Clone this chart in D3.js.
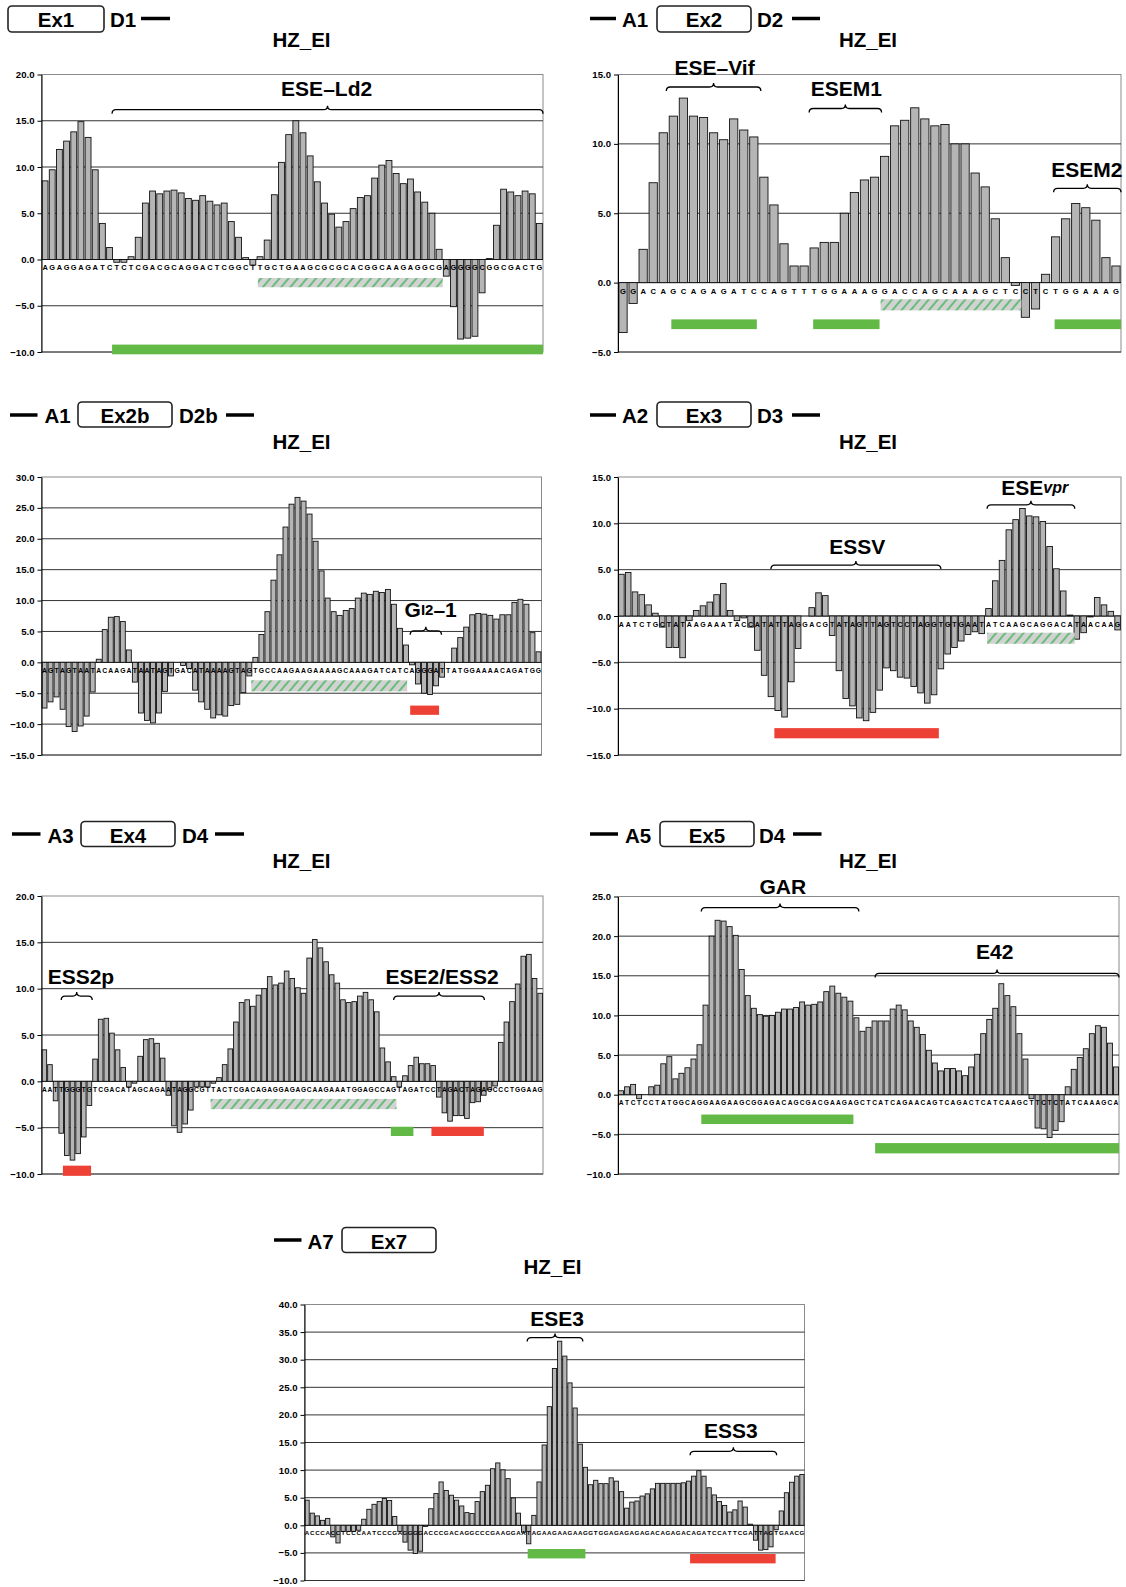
<!DOCTYPE html>
<html><head><meta charset="utf-8">
<script src="https://cdn.jsdelivr.net/npm/d3@7"></script>
<style>
html,body{margin:0;padding:0;background:#fff;}
svg{display:block;font-family:"Liberation Sans",Arial,Helvetica,sans-serif;}
</style></head><body>
<svg id="chart" width="1126" height="1587"></svg>
<script>
// ================= DATA =================
// Ex1
const ex1Seq = "AGAGGAGATCTCTCGACGCAGGACTCGGCTTGCTGAAGCGCGCACGGCAAGAGGCGAGGGGCGGCGACTG";
const ex1Values = [8.5,9.7,11.9,12.8,13.8,14.9,13.2,9.7,3.9,1.3,-0.3,-0.3,0.3,2.4,6.1,7.4,7.1,7.4,7.5,7.2,6.6,6.4,6.9,6.3,5.9,6.1,4.1,2.4,0.2,-0.6,0.3,2.1,7.0,10.5,13.5,15.0,13.7,11.2,8.4,6.1,4.9,3.5,4.1,5.5,6.7,6.9,8.8,10.2,10.7,9.3,8.2,8.7,7.3,6.2,5.0,1.1,-1.8,-5.1,-8.6,-8.5,-8.3,-3.6,0.1,3.7,7.6,7.3,6.9,7.4,7.1,3.9];
const ex1Ticks = [20,15,10,5,0,-5,-10];
const ex1Braces = [{label:[{t:"ESE–Ld2"}], from:9.85, to:70, y:16.2, labelU:39.8, labelY:18.5}];
const ex1Marks = [{kind:"hatch", from:30.2, to:56, y0:-2.0, y1:-3.0},{kind:"green", from:9.85, to:70, y0:-9.2, y1:-10.25}];

// Ex2
const ex2Seq = "GGACAGCAGAGATCCAGTTTGGAAAGGACCAGCAAAGCTCCTCTGGAAAG";
const ex2Values = [-3.6,-1.5,2.4,7.2,10.8,12.0,13.3,12.0,11.9,10.8,10.3,11.8,11.0,10.5,7.6,5.6,2.8,1.2,1.2,2.5,2.9,2.9,5.0,6.5,7.4,7.6,9.1,11.3,11.7,12.6,11.8,11.3,11.4,10.0,10.0,7.9,6.9,4.6,1.8,-0.2,-2.5,-1.9,0.6,3.3,4.6,5.7,5.4,4.5,1.8,1.2];
const ex2Ticks = [15,10,5,0,-5];
const ex2Braces = [
  {label:[{t:"ESE–Vif"}], from:4.8, to:14.2, y:14.1, labelU:9.6, labelY:15.55},
  {label:[{t:"ESEM1"}], from:19.0, to:26.2, y:12.55, labelU:22.7, labelY:14.0},
  {label:[{t:"ESEM2"}], from:43.3, to:50, y:6.8, labelU:46.6, labelY:8.2}];
const ex2Marks = [
  {kind:"green", from:5.3, to:13.8, y0:-2.65, y1:-3.35},
  {kind:"green", from:19.4, to:26.0, y0:-2.65, y1:-3.35},
  {kind:"green", from:43.4, to:50, y0:-2.65, y1:-3.35},
  {kind:"hatch", from:26.1, to:40.1, y0:-1.2, y1:-2.0}];

// Ex2b
const ex2bSeq = "AGTAGTAATACAAGATAATAGTGACATAAAAGTAGTGCCAAGAAGAAAAGCAAAGATCATCAGGGATTATGGAAAACAGATGG";
const ex2bValues = [-7.4,-6.4,-5.6,-7.6,-10.4,-11.2,-10.3,-8.7,-4.8,0.5,5.3,7.3,7.4,6.6,2.0,-3.2,-8.2,-9.4,-9.8,-8.2,-4.7,-2.2,0,-0.5,-1.0,-4.5,-6.4,-7.6,-9.0,-8.5,-8.7,-7.0,-6.8,-4.9,-2.2,0.8,4.5,8.2,13.3,17.4,21.9,25.6,26.7,26.1,24.0,19.6,14.8,10.4,8.2,7.6,8.4,8.7,10.4,11.2,11.0,11.5,11.3,11.8,9.4,5.5,2.8,-0.4,-3.5,-5.0,-5.2,-3.8,-2.4,0,2.3,4.0,5.7,7.7,7.9,7.8,7.6,7.0,7.7,7.7,9.7,10.2,9.4,4.8,1.7];
const ex2bTicks = [30,25,20,15,10,5,0,-5,-10,-15];
const ex2bBraces = [{label:[{t:"G"},{t:"I2",size:15},{t:"–1"}], from:61.2, to:66.4, y:5.1, labelU:64.6, labelY:8.6}];
const ex2bMarks = [
  {kind:"hatch", from:34.8, to:60.7, y0:-2.9, y1:-4.7},
  {kind:"red", from:61.2, to:66.0, y0:-7.0, y1:-8.5}];

// Ex3
const ex3Seq = "AATCTGCTATAAGAAATACCATATTAGGACGTATAGTTAGTCCTAGGTGTGAATATCAAGCAGGACATAACAAG";
const ex3Values = [4.5,4.7,2.6,2.3,1.2,0.3,-1.2,-3.4,-3.4,-4.5,-0.5,0.6,1.1,1.5,2.3,3.5,0.6,-0.5,-0.2,-1.2,-3.7,-6.4,-8.7,-10.2,-10.9,-7.1,-3.5,0,0.9,2.5,2.2,-2.1,-5.9,-8.9,-9.7,-11.0,-11.3,-10.4,-8.0,-5.6,-5.9,-6.6,-6.7,-7.6,-8.3,-9.4,-8.5,-5.7,-4.1,-3.4,-2.7,-2.0,-1.7,-1.9,0.8,3.8,6.0,9.3,10.4,11.6,10.8,10.7,10.2,7.5,5.1,2.7,0.1,-2.5,-1.8,-0.1,2.0,1.2,0.5,-1.5];
const ex3Ticks = [15,10,5,0,-5,-10,-15];
const ex3Braces = [
  {label:[{t:"ESSV"}], from:22.5, to:47.5, y:5.5, labelU:35.2, labelY:7.6},
  {label:[{t:"ESE"},{t:"vpr",size:16,italic:true}], from:54.3, to:67.2, y:12.0, labelU:61.3, labelY:13.9}];
const ex3Marks = [
  {kind:"red", from:23.0, to:47.2, y0:-12.1, y1:-13.2},
  {kind:"hatch", from:54.3, to:67.2, y0:-1.8, y1:-3.0}];

// Ex4
const ex4Seq = "AATTGGGTGTCGACATAGCAGAATAGGCGTTACTCGACAGAGGAGAGCAAGAAATGGAGCCAGTAGATCCTAGACTAGAGCCCTGGAAG";
const ex4Values = [3.4,1.8,-2.1,-5.6,-8.0,-8.5,-7.8,-6.0,-2.6,2.4,6.7,6.8,5.2,3.4,1.5,-0.6,-0.2,2.7,4.5,4.6,4.1,2.5,-1.5,-4.8,-5.5,-4.6,-3.1,-0.6,-0.6,-0.6,-0.2,0.4,1.8,3.5,6.4,8.5,8.8,8.1,9.3,10.0,11.3,10.4,10.6,11.9,11.1,10.1,9.5,13.3,15.3,14.4,12.9,11.5,10.6,8.8,8.5,8.6,9.2,9.6,8.8,7.5,3.6,2.1,0.5,-0.6,0.6,1.7,2.6,1.9,1.9,1.7,-1.7,-3.4,-4.3,-3.7,-3.7,-4.0,-2.3,-2.2,-1.5,-0.9,-0.5,4.2,6.4,8.6,10.5,13.5,13.7,11.1,9.5];
const ex4Ticks = [20,15,10,5,0,-5,-10];
const ex4Braces = [
  {label:[{t:"ESS2p"}], from:3.5, to:9.0, y:9.2, labelU:7.0, labelY:11.4},
  {label:[{t:"ESE2/ESS2"}], from:62.5, to:78.6, y:9.2, labelU:71.1, labelY:11.4}];
const ex4Marks = [
  {kind:"red", from:3.8, to:8.8, y0:-9.1, y1:-10.2},
  {kind:"hatch", from:30.0, to:63.0, y0:-1.9, y1:-3.0},
  {kind:"green", from:62.0, to:66.0, y0:-4.9, y1:-5.9},
  {kind:"red", from:69.2, to:78.5, y0:-4.9, y1:-5.9}];

// Ex5
const ex5Seq = "ATCTCCTATGGCAGGAAGAAGCGGAGACAGCGACGAAGAGCTCATCAGAACAGTCAGACTCATCAAGCTTCTCTATCAAAGCA";
const ex5Values = [0.5,1.0,1.3,-0.5,0,1.0,1.2,3.9,4.8,2.0,2.7,3.4,4.5,6.3,11.3,20.0,22.0,21.9,21.2,20.1,15.8,12.5,10.9,10.1,9.9,10.0,10.4,10.8,10.8,11.0,11.7,11.3,11.4,11.7,13.0,13.7,12.8,12.3,11.8,9.7,8.0,8.5,9.3,9.3,9.3,10.8,11.3,10.7,9.3,8.5,7.6,5.6,4.0,3.0,3.3,3.3,3.0,2.4,3.5,5.1,7.7,9.5,10.9,14.0,12.5,11.1,7.7,4.5,-0.5,-4.2,-4.3,-5.4,-4.5,-3.4,1.0,3.2,4.7,5.8,7.7,8.7,8.5,6.5,3.5];
const ex5Ticks = [25,20,15,10,5,0,-5,-10];
const ex5Braces = [
  {label:[{t:"GAR"}], from:13.8, to:39.9, y:23.6, labelU:27.3, labelY:26.3},
  {label:[{t:"E42"}], from:42.6, to:83, y:15.3, labelU:62.4, labelY:18.1}];
const ex5Marks = [
  {kind:"green", from:13.8, to:39.0, y0:-2.5, y1:-3.7},
  {kind:"green", from:42.6, to:83, y0:-6.1, y1:-7.4}];

// Ex7
const ex7Seq = "ACCCACCTCCCAATCCCGAGGGGACCCGACAGGCCCGAAGGAATAGAAGAAGAAGGTGGAGAGAGAGACAGAGACAGATCCATTCGATTAGTGAACG";
const ex7Values = [4.55,2.2,1.7,0.9,1.25,-2.1,-3.2,-1.1,-1.1,-1.1,-0.9,1.1,2.9,3.8,4.3,4.85,4.5,1.6,-1.1,-3.05,-4.5,-5.1,-4.7,-0.2,3.0,5.75,7.85,6.3,5.45,4.55,3.5,2.3,2.15,4.3,6.1,7.25,10.25,11.3,10.05,8.45,4.95,2.2,-1.25,-3.35,1.8,7.85,14.55,21.5,28.4,33.35,30.65,25.8,21.25,14.7,10.5,7.35,8.15,7.55,7.55,8.6,8.0,6.1,3.1,4.2,4.4,5.3,5.7,6.6,7.6,7.6,7.6,7.6,7.6,7.7,8.0,8.9,9.9,8.9,6.8,5.5,4.3,3.6,2.4,2.8,4.4,3.3,0.2,-2.7,-4.5,-4.4,-3.9,-0.8,2.6,5.9,7.8,8.9,9.2];
const ex7Ticks = [40,35,30,25,20,15,10,5,0,-5,-10];
const ex7Braces = [
  {label:[{t:"ESE3"}], from:43.2, to:54.0, y:34.0, labelU:49.0, labelY:37.6},
  {label:[{t:"ESS3"}], from:74.8, to:91.6, y:13.4, labelU:82.7, labelY:17.2}];
const ex7Marks = [
  {kind:"green", from:43.3, to:54.5, y0:-4.3, y1:-6.0},
  {kind:"red", from:74.8, to:91.4, y0:-5.2, y1:-6.9}];

const titleText = "HZ_EI";

// ================= LAYOUT =================
const panels = [
  {seq:ex1Seq, values:ex1Values, ticks:ex1Ticks, braces:ex1Braces, marks:ex1Marks,
   left:41.5, right:543, top:74.5, bottom:352, titleX:301.5, titleY:46, seqFs:7.4,
   hdr:{top:6, h:26, lineY:18.5, base:26.5, items:[{box:[8,104], t:"Ex1"},{text:"D1", x:110},{line:[141,170]}]}},
  {seq:ex2Seq, values:ex2Values, ticks:ex2Ticks, braces:ex2Braces, marks:ex2Marks,
   left:618, right:1121, top:74.5, bottom:352, titleX:868, titleY:46, seqFs:7.6,
   hdr:{top:6, h:26, lineY:18.5, base:26.5, items:[{line:[590,616]},{text:"A1", x:622},{box:[657,751], t:"Ex2"},{text:"D2", x:757},{line:[792,820]}]}},
  {seq:ex2bSeq, values:ex2bValues, ticks:ex2bTicks, braces:ex2bBraces, marks:ex2bMarks,
   left:41.5, right:541.5, top:477, bottom:755, titleX:301.5, titleY:448, seqFs:6.8,
   hdr:{top:402, h:25, lineY:415, base:422.5, items:[{line:[10,37.5]},{text:"A1", x:44.5},{box:[78,172], t:"Ex2b"},{text:"D2b", x:179},{line:[226,254]}]}},
  {seq:ex3Seq, values:ex3Values, ticks:ex3Ticks, braces:ex3Braces, marks:ex3Marks,
   left:618, right:1121, top:477, bottom:755, titleX:868, titleY:448, seqFs:7.0,
   hdr:{top:402, h:25, lineY:415, base:422.5, items:[{line:[590,616]},{text:"A2", x:622},{box:[657,751], t:"Ex3"},{text:"D3", x:757},{line:[792,820]}]}},
  {seq:ex4Seq, values:ex4Values, ticks:ex4Ticks, braces:ex4Braces, marks:ex4Marks,
   left:41.5, right:543, top:896, bottom:1174, titleX:301.5, titleY:867, seqFs:6.6,
   hdr:{top:821.5, h:25, lineY:834, base:842, items:[{line:[12,40.5]},{text:"A3", x:47.5},{box:[81,175], t:"Ex4"},{text:"D4", x:182},{line:[215,244]}]}},
  {seq:ex5Seq, values:ex5Values, ticks:ex5Ticks, braces:ex5Braces, marks:ex5Marks,
   left:618, right:1119, top:896.5, bottom:1174, titleX:868, titleY:867, seqFs:6.6,
   hdr:{top:821.5, h:25, lineY:834, base:842, items:[{line:[590,618]},{text:"A5", x:625},{box:[660,754], t:"Ex5"},{text:"D4", x:759},{line:[793,821.5]}]}},
  {seq:ex7Seq, values:ex7Values, ticks:ex7Ticks, braces:ex7Braces, marks:ex7Marks,
   left:304.5, right:804.5, top:1304.5, bottom:1580.5, titleX:552.5, titleY:1273, seqFs:6.2,
   hdr:{top:1227.5, h:25, lineY:1240, base:1248, items:[{line:[274,301.5]},{text:"A7", x:307.5},{box:[342,436], t:"Ex7"}]}}
];

// ================= DRAW =================
const svg = d3.select("#chart");
const defs = svg.append("defs");
const pat = defs.append("pattern").attr("id","hatch").attr("patternUnits","userSpaceOnUse")
  .attr("width",7).attr("height",7).attr("patternTransform","rotate(40)");
pat.append("rect").attr("width",7).attr("height",7).attr("fill","#d2d2d2");
pat.append("line").attr("x1",1).attr("y1",0).attr("x2",1).attr("y2",7)
  .attr("stroke","#2fb24a").attr("stroke-width",1.3);

const GREEN = "#62b946", RED = "#ee4136";
const FONT_B = "bold";
const HDR_FS = 20.5, TITLE_FS = 20.5, LABEL_FS = 21, TICK_FS = 9.6;

function bracePath(x1, x2, y, h) {
  const xm = (x1 + x2) / 2, r = Math.min(4, (x2 - x1) / 8);
  return `M${x1},${y+h} Q${x1},${y} ${x1+r},${y} L${xm-r},${y} Q${xm},${y} ${xm},${y-h} ` +
         `Q${xm},${y} ${xm+r},${y} L${x2-r},${y} Q${x2},${y} ${x2},${y+h}`;
}

panels.forEach(p => {
  const g = svg.append("g");
  const n = p.values.length;
  const x = d3.scaleBand().domain(d3.range(n)).range([p.left, p.right]).paddingInner(0.18).paddingOuter(0.09);
  const xu = d3.scaleLinear().domain([0, n]).range([p.left, p.right]);
  const y = d3.scaleLinear().domain([p.ticks[p.ticks.length-1], p.ticks[0]]).range([p.bottom, p.top]);

  // header
  const h = p.hdr;
  h.items.forEach(it => {
    if (it.line) g.append("line").attr("x1", it.line[0]).attr("x2", it.line[1])
      .attr("y1", h.lineY).attr("y2", h.lineY).attr("stroke", "#000").attr("stroke-width", 3.5);
    if (it.text) g.append("text").attr("x", it.x).attr("y", h.base + 0.5).text(it.text)
      .attr("font-size", HDR_FS).attr("font-weight", FONT_B);
    if (it.box) {
      g.append("rect").attr("x", it.box[0]).attr("y", h.top).attr("width", it.box[1]-it.box[0]).attr("height", h.h)
        .attr("rx", 4).attr("fill", "#fff").attr("stroke", "#222").attr("stroke-width", 1.6);
      g.append("text").attr("x", (it.box[0]+it.box[1])/2).attr("y", h.base + 0.5).attr("text-anchor","middle")
        .text(it.t).attr("font-size", HDR_FS).attr("font-weight", FONT_B);
    }
  });
  // title
  g.append("text").attr("x", p.titleX).attr("y", p.titleY + 0.5).attr("text-anchor","middle")
    .text(titleText).attr("font-size", TITLE_FS).attr("font-weight", FONT_B);

  // plot frame
  g.append("rect").attr("x", p.left).attr("y", p.top).attr("width", p.right-p.left).attr("height", p.bottom-p.top)
    .attr("fill","none").attr("stroke","#8a8a8a").attr("stroke-width",1);
  // gridlines
  g.append("g").selectAll("line").data(p.ticks.slice(1)).join("line")
    .attr("x1", p.left).attr("x2", p.right).attr("y1", d => y(d)).attr("y2", d => y(d))
    .attr("stroke", d => d === 0 ? "#000" : "#333").attr("stroke-width", 1);

  // bars
  g.append("g").selectAll("rect").data(p.values).join("rect")
    .attr("x", (d,i) => x(i)).attr("width", x.bandwidth())
    .attr("y", d => y(Math.max(0,d))).attr("height", d => Math.abs(y(d)-y(0)))
    .attr("fill", "#b5b5b5").attr("stroke", "#111").attr("stroke-width", 0.9);

  // axis
  const ax = g.append("g").attr("transform", `translate(${p.left},0)`)
    .call(d3.axisLeft(y).tickValues(p.ticks).tickFormat(d3.format(".1f")).tickSizeInner(4).tickSizeOuter(0));
  ax.select(".domain").attr("stroke","#000");
  ax.selectAll(".tick line").attr("stroke","#000");
  ax.selectAll("text").attr("font-size", TICK_FS).attr("font-weight", FONT_B).attr("fill","#000")
    .attr("font-family", '"Liberation Sans",Arial,sans-serif').attr("x", -7);

  // sequence letters
  const seq = p.seq.split("");
  g.append("g").selectAll("text").data(seq).join("text")
    .attr("x", (d,i) => x(i) + x.bandwidth()/2).attr("y", y(0) + 5.5 + p.seqFs*0.74)
    .attr("text-anchor","middle").attr("font-size", p.seqFs).attr("font-weight", FONT_B)
    .text(d => d);

  // marks (hatched / green / red bars)
  g.append("g").selectAll("rect").data(p.marks).join("rect")
    .attr("x", d => xu(d.from)).attr("width", d => xu(d.to) - xu(d.from))
    .attr("y", d => y(d.y0)).attr("height", d => y(d.y1) - y(d.y0))
    .attr("fill", d => d.kind === "hatch" ? "url(#hatch)" : d.kind === "green" ? GREEN : RED);

  // braces
  g.append("g").selectAll("path").data(p.braces).join("path")
    .attr("d", d => bracePath(xu(d.from), xu(d.to), y(d.y), 4))
    .attr("fill","none").attr("stroke","#000").attr("stroke-width",1.3);
  p.braces.forEach(b => {
    const t = g.append("text").attr("x", xu(b.labelU)).attr("y", y(b.labelY))
      .attr("text-anchor","middle").attr("dominant-baseline","central")
      .attr("font-size", LABEL_FS).attr("font-weight", FONT_B);
    b.label.forEach(s => {
      const ts = t.append("tspan").text(s.t);
      if (s.size) ts.attr("font-size", s.size);
      if (s.italic) ts.attr("font-style","italic");
    });
  });
});
</script>
</body></html>
